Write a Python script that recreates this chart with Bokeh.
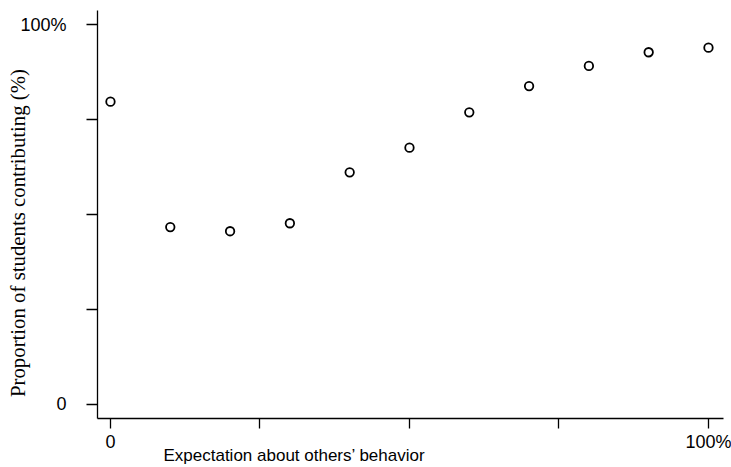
import math
from bokeh.plotting import figure
from bokeh.models import Label, FixedTicker, Range1d
from bokeh.embed import file_html
from bokeh.resources import INLINE

# data
expectation = [0, 10, 20, 30, 40, 50, 60, 70, 80, 90, 100]
contributing = [79.7, 46.7, 45.6, 47.7, 61.1, 67.6, 76.9, 83.8, 89.1, 92.7, 93.9]
tick_values = [0, 25, 50, 75, 100]
tick_labels = {0: "0", 25: "", 50: "", 75: "", 100: "100%"}
x_title = "Expectation about others\u2019 behavior"
y_title = "Proportion of students contributing (%)"

x_lo, x_hi = -2.17, 102.5      # extent of the drawn x axis
y_lo, y_hi = -3.68, 103.68     # extent of the drawn y axis

p = figure(width=731, height=467, output_backend="svg", toolbar_location=None,
           x_range=Range1d(-18.39, 103.85), y_range=Range1d(-16.58, 106.32),
           min_border=0)
p.outline_line_color = None
p.xgrid.visible = False
p.ygrid.visible = False
p.background_fill_color = "white"
p.border_fill_color = "white"

p.scatter(expectation, contributing, marker="circle", size=8.5, fill_color=None,
          line_color="black", line_width=1.8)

for ax in (p.xaxis[0], p.yaxis[0]):
    ax.ticker = FixedTicker(ticks=tick_values)
    ax.major_label_overrides = tick_labels
    ax.minor_tick_line_color = None
    ax.axis_line_color = "black"
    ax.axis_line_width = 1.3
    ax.major_tick_line_color = "black"
    ax.major_tick_line_width = 1.3
    ax.major_tick_in = 0
    ax.major_label_text_font = "Liberation Sans"
    ax.major_label_text_font_size = "18px"
    ax.major_label_text_color = "black"

p.xaxis.fixed_location = y_lo
p.xaxis.bounds = (x_lo, x_hi)
p.xaxis.major_tick_out = 10
p.xaxis.major_label_standoff = 4

p.yaxis.fixed_location = x_lo
p.yaxis.bounds = (y_lo, y_hi)
p.yaxis.major_tick_out = 11
p.yaxis.major_label_standoff = 20

p.add_layout(Label(x=8.86, y=-13.42, text=x_title, text_font="Liberation Sans",
                   text_font_size="17px", text_align="left", text_baseline="middle",
                   text_color="black"))
p.add_layout(Label(x=-15.5, y=45.13, text=y_title, angle=math.pi / 2,
                   text_font="Liberation Serif", text_font_size="20.8px",
                   text_align="center", text_baseline="middle", text_color="black"))

open("out.html", "w").write(file_html(p, INLINE))
